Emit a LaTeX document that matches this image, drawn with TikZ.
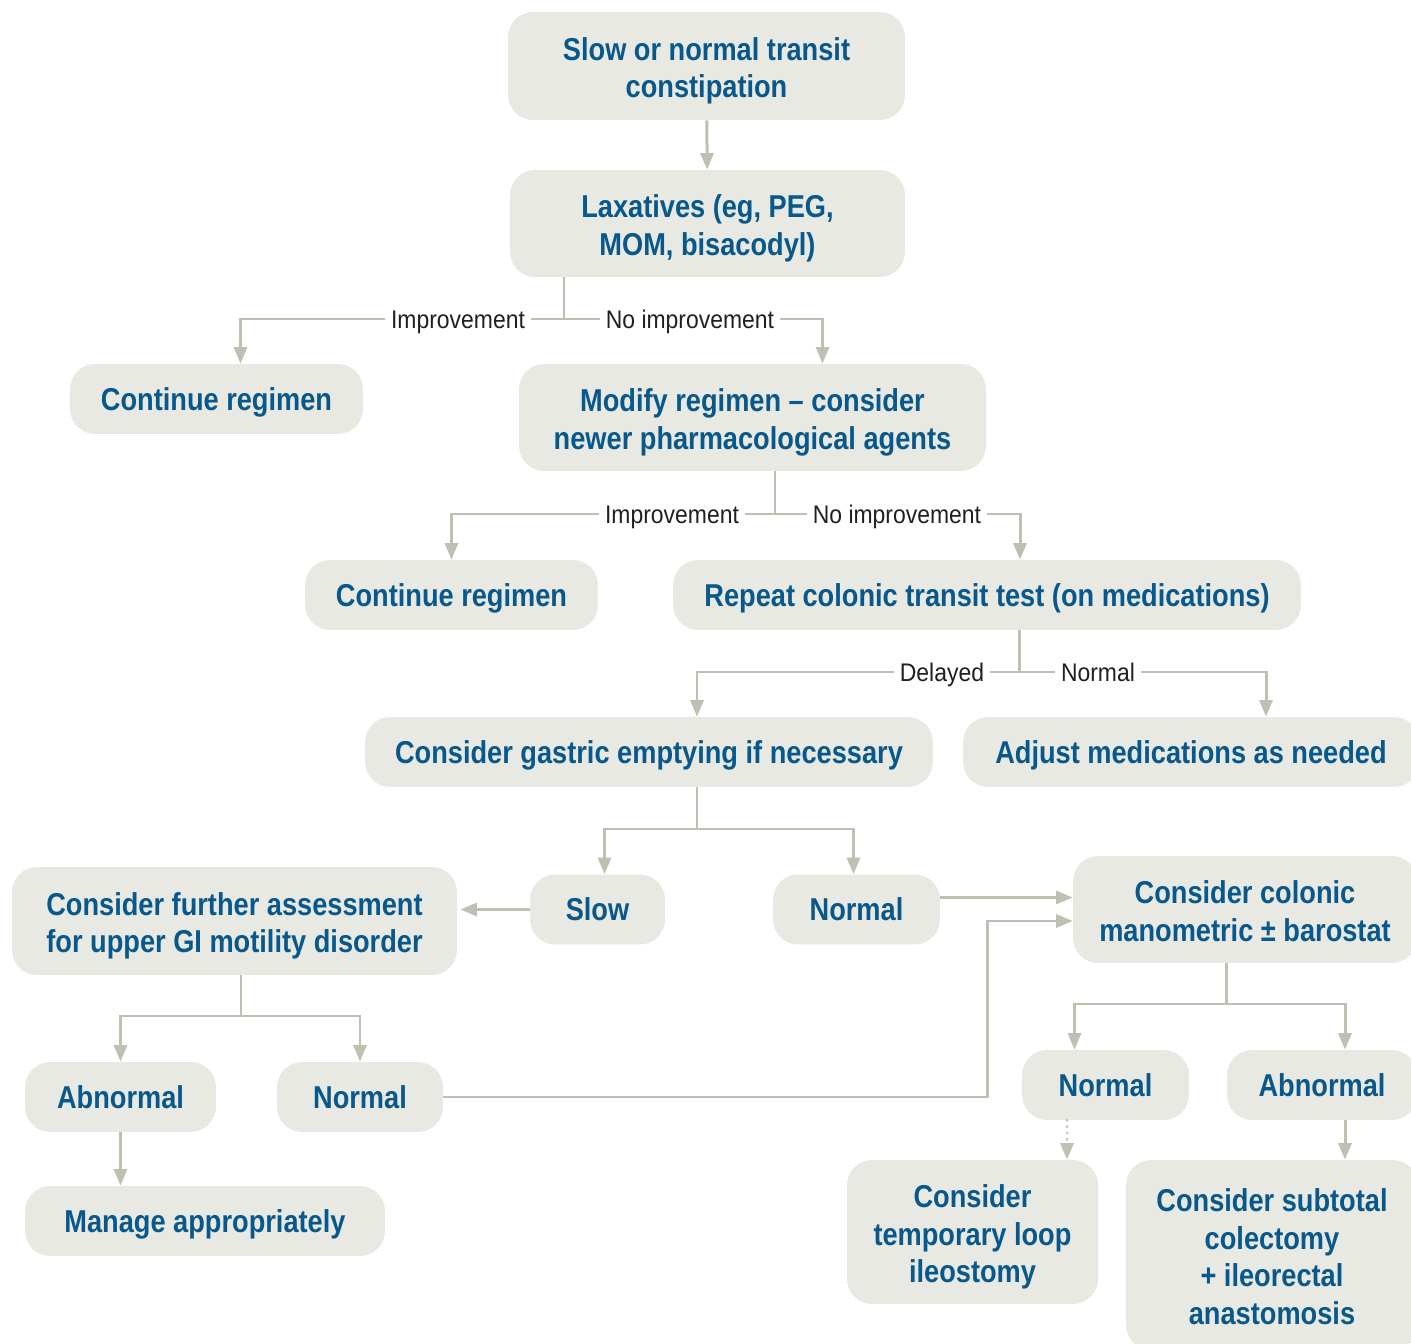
\documentclass[tikz,border=0pt]{standalone}
\usepackage{fontspec}
\newfontfamily\boxfont{Liberation Sans}[FakeStretch=0.86]
\newfontfamily\labelfont{Liberation Sans}[FakeStretch=0.9]
\definecolor{boxfill}{RGB}{233,233,227}
\definecolor{boxtext}{RGB}{8,88,140}
\definecolor{linegrey}{RGB}{190,192,178}
\definecolor{labeltext}{RGB}{35,31,32}
\usetikzlibrary{arrows.meta,positioning,calc}

\begin{document}
\begin{tikzpicture}[x=0.02cm, y=-0.02cm,
            block/.style={fill=boxfill, rounded corners=0.5cm, minimum height=1.4cm, align=center, inner sep=0pt, text=boxtext, font=\boxfont\bfseries\fontsize{18pt}{21.6pt}\selectfont,
                execute at begin node={\rule{0pt}{17pt}}, execute at end node={\rule[-4pt]{0pt}{0pt}}},
            multi/.style={execute at begin node={\rule{0pt}{#1}}},
            tallblock/.style={block, multi=40.4pt, minimum height=2.14cm},
            lbl/.style={fill=white, inner xsep=3.5pt, inner ysep=1pt, text height=14pt, text depth=3.6pt, text=labeltext, font=\labelfont\fontsize{14.5pt}{17pt}\selectfont},
            link/.style={draw=linegrey, line width=1.7pt},
            arrow/.style={link, -{Triangle[length=0.33cm, width=0.26cm]}},
            dots/.style={dash pattern=on 0pt off 3.6pt, line cap=round}
        ]

        \clip[use as bounding box] (0,0) rectangle (1411,1344);

        \node[tallblock, minimum width=7.94cm, minimum height=2.16cm] (start) at (706.5,66) {Slow or normal transit\\constipation};

        \node[tallblock, minimum width=7.9cm] (lax) at (707.5,223.5) {Laxatives (eg, PEG,\\MOM, bisacodyl)};

        \node[block, minimum width=5.86cm] (cont1) at (216.5,399) {Continue regimen};

        \node[tallblock, minimum width=9.34cm] (modify) at (752.5,417.5) {Modify regimen – consider\\newer pharmacological agents};

        \node[block, minimum width=5.86cm] (cont2) at (451.5,595) {Continue regimen};

        \node[block, minimum width=12.56cm] (retest) at (987,595) {Repeat colonic transit test (on medications)};

        \node[block, minimum width=11.36cm] (gastric) at (649,752) {Consider gastric emptying if necessary};

        \node[block, minimum width=9.12cm] (adjust) at (1191,752) {Adjust medications as needed};

        \node[tallblock, minimum width=8.9cm, minimum height=2.16cm] (further) at (234.5,921) {Consider further assessment\\for upper GI motility disorder};

        \node[block, minimum width=2.7cm] (slow) at (597.5,909.5) {Slow};

        \node[block, minimum width=3.34cm] (gnormal) at (856.5,909.5) {Normal};

        \node[tallblock, minimum width=6.88cm] (mano) at (1245,909.5) {Consider colonic\\manometric ± barostat};

        \node[block, minimum width=3.82cm] (uabn) at (120.5,1097) {Abnormal};

        \node[block, minimum width=3.32cm] (unormal) at (360,1097) {Normal};

        \node[block, minimum width=7.2cm] (manage) at (205,1221) {Manage appropriately};

        \node[block, minimum width=3.34cm] (mnormal) at (1105.5,1085) {Normal};

        \node[block, minimum width=3.8cm] (mabn) at (1322,1085) {Abnormal};

        \node[block, multi=62pt, minimum width=5.02cm, minimum height=2.88cm] (loop) at (972.5,1232) {Consider\\temporary loop\\ileostomy};

        \node[block, multi=83.6pt, minimum width=5.84cm, minimum height=3.8cm] (colect) at (1272,1255) {Consider subtotal\\colectomy\\+ ileorectal\\anastomosis};

        % Branch points
        \coordinate (split1) at (564,319);
        \coordinate (split2) at (775,514);
        \coordinate (split3) at (1019,672);
        \coordinate (split4) at (697,829);
        \coordinate (split5) at (241,1016);
        \coordinate (split6) at (1226,1004);

        % Main flow arrows
        \draw[arrow] (start) -- (lax);

        \draw[link] (lax.south -| split1) -- (split1);
        \draw[arrow] (split1) -| ($(cont1.north)+(24,0)$);
        \draw[arrow] (split1) -| ($(modify.north)+(70,0)$);

        \draw[link] (modify.south -| split2) -- (split2);
        \draw[arrow] (split2) -| (cont2.north);
        \draw[arrow] (split2) -| ($(retest.north)+(33,0)$);

        \draw[link] (retest.south -| split3) -- (split3);
        \draw[arrow] (split3) -| ($(gastric.north)+(48,0)$);
        \draw[arrow] (split3) -| ($(adjust.north)+(75,0)$);

        \draw[link] (gastric.south -| split4) -- (split4);
        \draw[arrow] (split4) -| ($(slow.north)+(7,0)$);
        \draw[arrow] (split4) -| ($(gnormal.north)+(-3,0)$);

        \draw[arrow] (slow.west) -- ($(slow.west -| further.east)+(3,0)$);
        \draw[arrow] ($(gnormal.east)+(0,-12)$) -- ($(mano.west)+(0,-12)$);
        \draw[arrow] (unormal.east) -- ++(544,0) |- ($(mano.west)+(0,11.5)$);

        \draw[link] (further.south -| split5) -- (split5);
        \draw[arrow] (split5) -| (uabn.north);
        \draw[arrow] (split5) -| (unormal.north);
        \draw[arrow] (uabn) -- (uabn |- manage.north);

        \draw[link] (mano.south -| split6) -- (split6);
        \draw[arrow] (split6) -| ($(mnormal.north)+(-31,0)$);
        \draw[arrow] (split6) -| ($(mabn.north)+(23,0)$);
        \draw[arrow, dots] ($(mnormal.south)+(-38.5,0)$) -- ($(loop.north)+(94.5,0)$);
        \draw[arrow] ($(mabn.south)+(23,0)$) -- ($(colect.north)+(73,0)$);

        % Branch labels
        \node[lbl] (imp1) at (458,319) {Improvement};
        \node[lbl] (noimp1) at (690,319) {No improvement};
        \node[lbl] (imp2) at (672,514) {Improvement};
        \node[lbl] (noimp2) at (897,514) {No improvement};
        \node[lbl] (delayed) at (942,672) {Delayed};
        \node[lbl] (normal) at (1098,672) {Normal};

    \end{tikzpicture}
\end{document}
